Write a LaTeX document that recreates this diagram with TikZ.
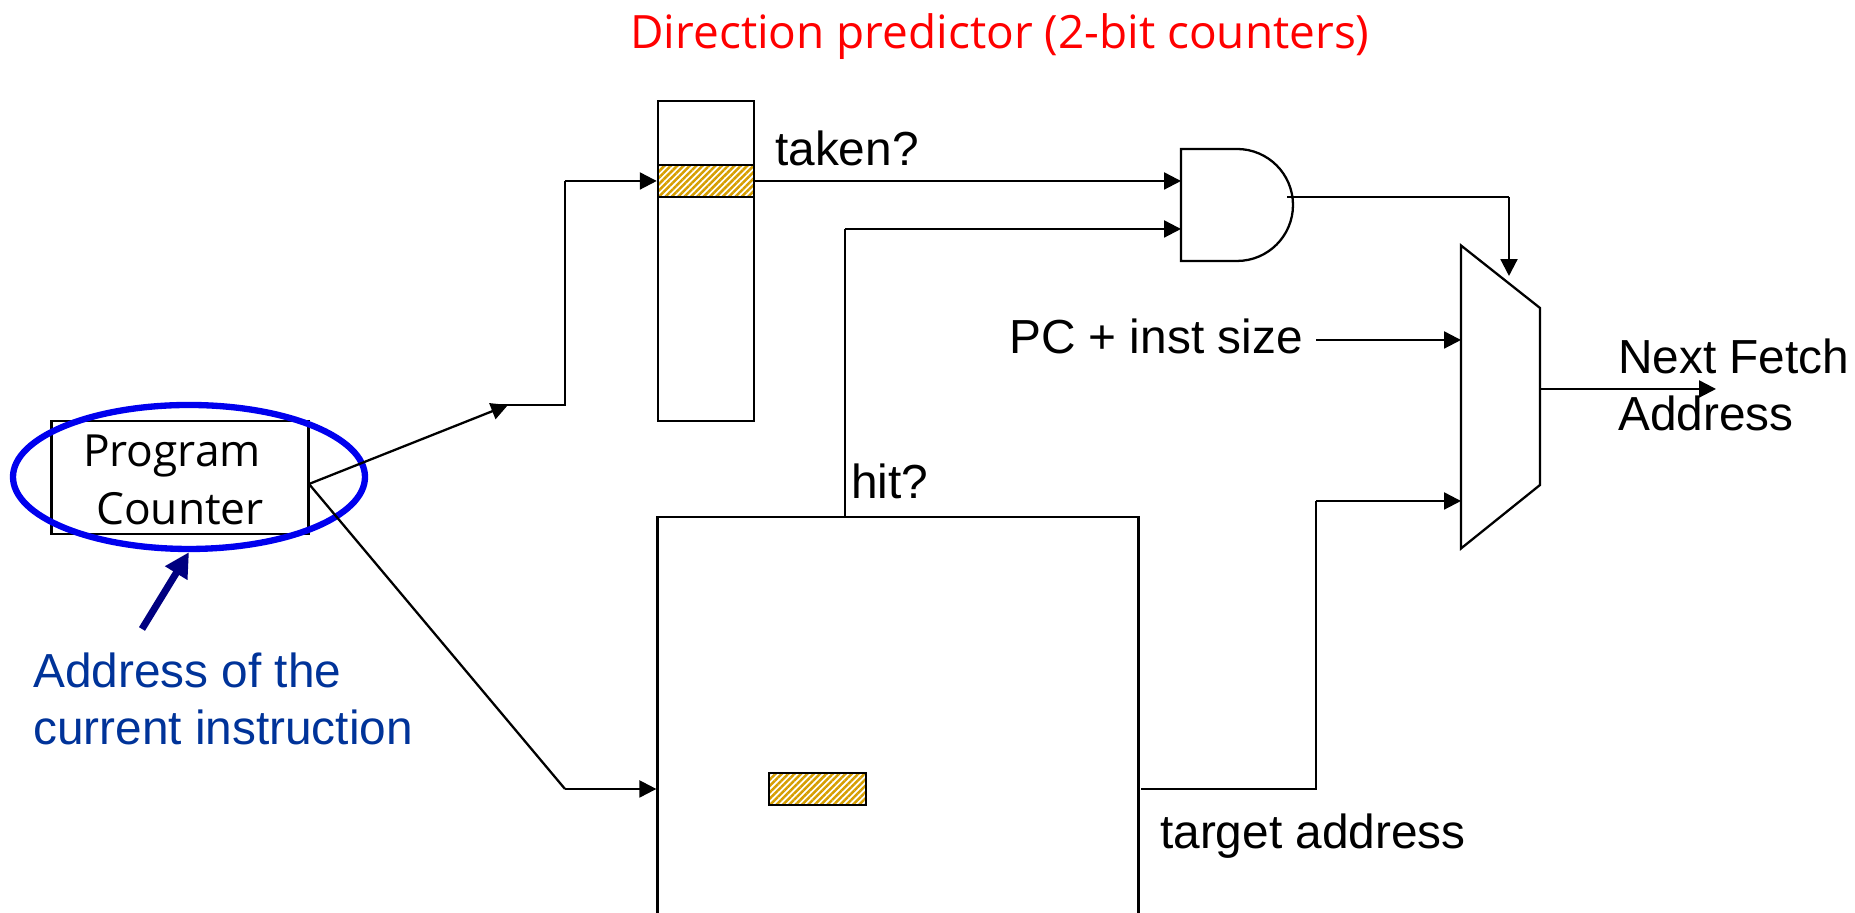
\documentclass[tikz,border=0pt]{standalone}
\usepackage{fontspec}
\usepackage{xcolor}
\setmainfont{Liberation Sans}
\newfontfamily\tahomafont{Open Sans}
\definecolor{hatchgold}{HTML}{D69E00}
\definecolor{ringblue}{HTML}{0000EE}
\definecolor{notenavy}{HTML}{000080}
\definecolor{noteblue}{HTML}{003399}
\usetikzlibrary{arrows.meta, patterns.meta, positioning, shapes.geometric}

\begin{document}
\begin{tikzpicture}[
  line width=0.65pt,
  block/.style={draw, inner sep=0pt},
  hatched/.style={block, pattern={Lines[angle=45, distance=0.045cm, line width=0.025cm]}, pattern color=hatchgold},
  label/.style={font=\fontsize{13.6}{16.2}\selectfont, inner sep=0pt, align=left},
  tahoma/.style={font=\tahomafont\fontsize{12.6}{16.6}\selectfont, inner sep=0pt, align=center},
  arr/.style={-{Triangle[length=4.8pt, width=4.8pt]}},
]
\useasboundingbox (0,0) rectangle (18.55,9.13);

% Program counter
\node[block, minimum width=2.57cm, minimum height=1.13cm] (pc) at (1.80, 4.355) {};
\node[tahoma] (pctext) at (1.80, 4.33) {Program\kern0.16cm\\Counter};
\coordinate (pcout) at (3.09, 4.29);
\node[draw=ringblue, line width=1.8pt, ellipse, minimum width=3.52cm, minimum height=1.44cm, inner sep=0pt] (ring) at (1.89, 4.36) {};

% Direction predictor
\node[block, minimum width=0.96cm, minimum height=3.20cm] (pred) at (7.06, 6.52) {};
\node[hatched, minimum width=0.96cm, minimum height=0.32cm] (predrow) at (7.06, 7.32) {};

% BTB
\node[block, minimum width=4.81cm, minimum height=4.36cm] (btb) at (8.98, 1.78) {};
\node[hatched, minimum width=0.97cm, minimum height=0.32cm] (btbrow) at (8.175, 1.24) {};

% AND gate
\draw (11.81, 7.64) coordinate (andtop) -- (12.37, 7.64) arc (90:-90:0.56) -- (11.81, 6.52) -- cycle;
\coordinate (andina) at (11.81, 7.32);
\coordinate (andinb) at (11.81, 6.84);
\coordinate (andout) at (12.87, 7.16);

% Mux
\draw (14.61, 6.675) -- (15.40, 6.05) -- (15.40, 4.28) -- (14.61, 3.645) -- cycle;
\coordinate (muxtop) at (15.09, 6.37);
\coordinate (muxina) at (14.61, 5.73);
\coordinate (muxinb) at (14.61, 4.12);
\coordinate (muxout) at (15.40, 5.24);

% Wire bends
\coordinate (uptip) at (5.08, 5.08);
\coordinate (upstart) at (4.90, 5.08);
\coordinate (upbend) at (5.65, 5.08);
\coordinate (uptop) at (5.65, 7.32);
\coordinate (downbend) at (5.65, 1.24);
\coordinate (hitbase) at (8.45, 3.96);
\coordinate (hittop) at (8.45, 6.84);
\coordinate (outbend) at (15.09, 7.16);
\coordinate (tgtstart) at (11.41, 1.24);
\coordinate (tgtbend) at (13.16, 1.24);
\coordinate (tgttop) at (13.16, 4.12);
\coordinate (pcstart) at (13.16, 5.73);
\coordinate (nextend) at (17.16, 5.24);

% Arrows
\draw[arr] (pcout) -- (uptip);
\draw (upstart) -- (upbend) -- (uptop);
\draw[arr] (uptop) -- (predrow.west);
\draw (pcout) -- (downbend);
\draw[arr] (downbend) -- (btb.west |- downbend);
\draw[arr] (predrow.east) -- (andina);
\draw (hitbase) -- (hittop);
\draw[arr] (hittop) -- (andinb);
\draw (andout) -- (outbend);
\draw[arr] (outbend) -- (muxtop);
\draw[arr] (pcstart) -- (muxina);
\draw (tgtstart) -- (tgtbend) -- (tgttop);
\draw[arr] (tgttop) -- (muxinb);
\draw[arr] (muxout) -- (nextend);

% Note arrow
\coordinate (notefoot) at (1.42, 2.84);
\draw[-{Triangle[length=7pt, width=7pt]}, notenavy, line width=2pt] (notefoot) -- (ring.south);

% Labels
\node[tahoma, red, font=\tahomafont\fontsize{13.07}{16.2}\selectfont] (title) at (10.00, 8.76) {Direction predictor (2-bit counters)};
\node[label, anchor=west] (taken) at (7.74, 7.65) {taken?};
\node[label, anchor=west] (hit) at (8.50, 4.32) {hit?};
\node[label, anchor=west] (pcsize) at (10.08, 5.77) {PC + inst size};
\node[label, anchor=west] (next) at (16.17, 5.28) {Next Fetch\\Address};
\node[label, anchor=west] (target) at (11.59, 0.77) {target address};
\node[label, anchor=west, text=noteblue] (note) at (0.32, 2.14) {Address of the\\current instruction};
\end{tikzpicture}
\end{document}
